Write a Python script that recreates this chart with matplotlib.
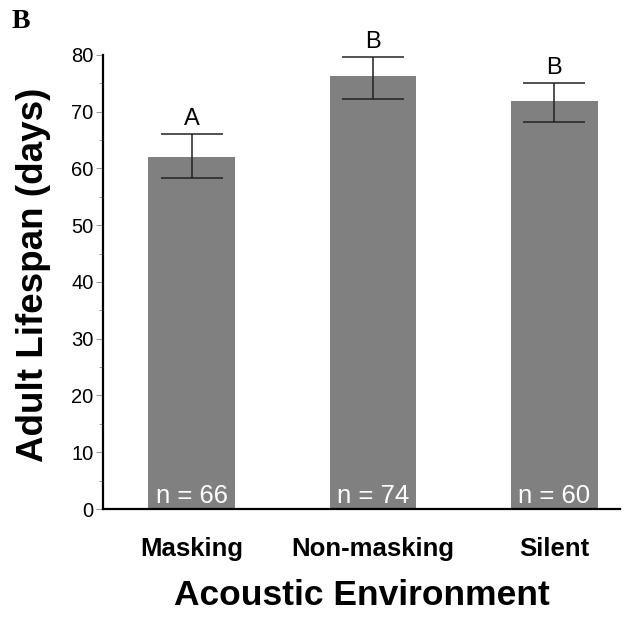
import matplotlib

matplotlib.use("Agg")
import matplotlib.pyplot as plt
from matplotlib.ticker import MultipleLocator

plt.rcParams["font.family"] = ["Liberation Sans", "DejaVu Sans"]

categories = ["Masking", "Non-masking", "Silent"]
means = [62.0, 76.3, 71.8]
err_low = [3.7, 4.0, 3.6]
err_high = [4.0, 3.3, 3.2]
letters = ["A", "B", "B"]
n_labels = ["n = 66", "n = 74", "n = 60"]

fig = plt.figure(figsize=(6.29, 6.17), dpi=100)
ax = fig.add_axes([0.164, 0.175, 0.822, 0.736])

x = list(range(len(categories)))
ax.bar(x, means, width=0.48, color="#808080", zorder=1)
ax.errorbar(x, means, yerr=[err_low, err_high], fmt="none", ecolor="#222222",
            elinewidth=1.1, capsize=22, capthick=1.1, zorder=2)

for xi, m, eh, lab in zip(x, means, err_high, letters):
    ax.text(xi, m + eh + 0.7, lab, ha="center", va="bottom", fontsize=17)
for xi, lab in zip(x, n_labels):
    ax.text(xi, 0.1, lab, ha="center", va="bottom", fontsize=18.5, color="white")

ax.set_xlim(-0.49, 2.365)
ax.set_ylim(0, 80)
ax.yaxis.set_major_locator(MultipleLocator(10))
ax.yaxis.set_minor_locator(MultipleLocator(5))
ax.tick_params(axis="y", which="major", length=5, width=0.6, color="#888888",
               labelsize=14.5, pad=2)
ax.tick_params(axis="y", which="minor", length=3, width=0.6, color="#888888")
ax.set_xticks(x)
ax.set_xticklabels(categories, fontsize=18.5, fontweight="bold")
ax.tick_params(axis="x", length=0, pad=20)

for s in ["top", "right"]:
    ax.spines[s].set_visible(False)
ax.spines["left"].set_linewidth(1.6)
ax.spines["bottom"].set_linewidth(1.6)

ax.set_ylabel("Adult Lifespan (days)", fontsize=26.5, fontweight="bold")
ax.yaxis.set_label_coords(-0.10, 0.515)
ax.set_xlabel("Acoustic Environment", fontsize=25.5, fontweight="bold", labelpad=13)

fig.text(0.018, 0.955, "B", fontsize=20, fontweight="bold", family="Liberation Serif")

fig.savefig("out.png", dpi=100, facecolor="white")
